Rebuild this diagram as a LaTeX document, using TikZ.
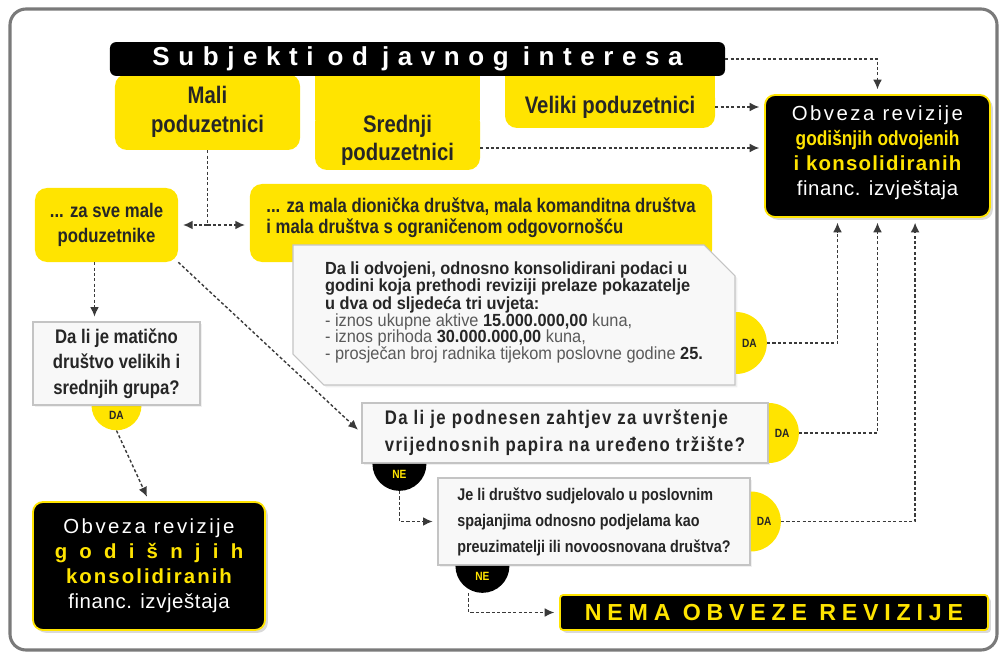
\documentclass[tikz,border=0pt]{standalone}
\usepackage{fontspec}
\setmainfont{Liberation Sans}
\newfontfamily\condfont[FakeStretch=0.85]{Liberation Sans}
\newfontfamily\listfont[FakeStretch=0.93]{Liberation Sans}
\usetikzlibrary{arrows.meta,positioning,calc,shapes.geometric,shapes.misc,shadows}
\definecolor{revYellow}{HTML}{FFE400}
\definecolor{revFrame}{HTML}{7A7A7A}
\definecolor{revText}{HTML}{262626}
\definecolor{revGrey}{HTML}{5A5A5A}
\definecolor{revLine}{HTML}{3A3A3A}
\definecolor{revPaper}{HTML}{F8F8F8}
\definecolor{revBorder}{HTML}{C4C4C4}

\begin{document}
\begin{tikzpicture}[x=0.25mm, y=-0.25mm,
  ybox/.style={fill=revYellow, rounded corners=3mm, inner sep=0pt, align=center, text=revText},
  bbox/.style={fill=black, draw=revYellow, line width=1.3pt, rounded corners=2.5mm, inner sep=0pt,
    align=center, text=white, drop shadow={opacity=0.3,shadow xshift=0.7mm,shadow yshift=-0.7mm}},
  qbox/.style={fill=revPaper, draw=revBorder, line width=0.8pt, inner sep=0pt, text=revText,
    drop shadow={opacity=0.12,shadow xshift=0.6mm,shadow yshift=-0.6mm}},
  dahalf/.style={semicircle, fill=revYellow, inner sep=0pt, text=revText, anchor=chord center,
    font=\condfont\bfseries\fontsize{8.5}{9}\selectfont},
  nehalf/.style={semicircle, fill=black, inner sep=0pt, text=revYellow, anchor=chord center,
    font=\condfont\bfseries\fontsize{8.5}{9}\selectfont},
  conn/.style={draw=revLine, line width=1pt, dash pattern=on 2.2pt off 1.6pt},
  toarr/.style={-{Latex[length=2.4mm,width=2.2mm]}, shorten >=1.2mm}]
\useasboundingbox (0,0) rectangle (1006,656);
\draw[revFrame, line width=2.2pt, rounded corners=4mm] (10,9) rectangle (997,650);

% top row: size classes under the title bar
\fill[revYellow] (315,70) rectangle (480,120);
\fill[revYellow] (505,70) rectangle (715,100);
\node[ybox, minimum width=46.25mm, minimum height=19mm, font=\condfont\bfseries\fontsize{17}{21}\selectfont]
  (mali) at (207.5,112) {Mali\\poduzetnici};
\node[ybox, minimum width=41.25mm, minimum height=15mm, font=\condfont\bfseries\fontsize{17}{20}\selectfont]
  (srednji) at (397.5,140) {Srednji\\poduzetnici};
\node[ybox, minimum width=52.5mm, minimum height=10.5mm, font=\condfont\bfseries\fontsize{17}{20}\selectfont]
  (veliki) at (610,107) {Veliki poduzetnici};
\node[fill=black, rounded corners=1.5mm, minimum width=153.75mm, minimum height=8mm, text=white,
  font=\bfseries\fontsize{18.5}{20}\selectfont\addfontfeatures{LetterSpace=33}]
  (title) at (417.5,59) {Subjekti\hspace*{3.5mm}od\hspace*{3.5mm}javnog\hspace*{3.5mm}interesa};

% result box on the right
\node[bbox, minimum width=56.25mm, minimum height=30.5mm, font=\fontsize{14.5}{17.8}\selectfont]
  (rbox) at (877.5,156)
  {{\addfontfeatures{LetterSpace=12}Obveza revizije}\\
   {\color{revYellow}\condfont\bfseries godišnjih odvojenih}\\
   {\color{revYellow}\bfseries\addfontfeatures{LetterSpace=6}i konsolidiranih}\\
   {\addfontfeatures{LetterSpace=3}financ. izvještaja}\\[-3.5mm]};

% small enterprises
\node[ybox, minimum width=35.75mm, minimum height=18.5mm, font=\condfont\bfseries\fontsize{14}{18}\selectfont]
  (zasve) at (106.5,225) {... za sve male\\poduzetnike};
\node[ybox, minimum width=115.5mm, minimum height=19.5mm, align=left, font=\condfont\bfseries\fontsize{14}{14.5}\selectfont]
  (zamala) at (481,223) {... za mala dionička društva, mala komanditna društva\\i mala društva s ograničenom odgovornošću\\[-1.5mm]};
\node[qbox, chamfered rectangle, chamfered rectangle corners={north east,south west}, chamfered rectangle xsep=6.5mm,
  minimum width=110.5mm, minimum height=35mm, align=left, font=\listfont\fontsize{12.5}{11.8}\selectfont]
  (q1) at (514,315)
  {\textbf{Da li odvojeni, odnosno konsolidirani podaci u}\\
   \textbf{godini koja prethodi reviziji prelaze pokazatelje}\\
   \textbf{u dva od sljedeća tri uvjeta:}\\
   \textcolor{revGrey}{- iznos ukupne aktive} \textbf{15.000.000,00} \textcolor{revGrey}{kuna,}\\
   \textcolor{revGrey}{- iznos prihoda} \textbf{30.000.000,00} \textcolor{revGrey}{kuna,}\\
   \textcolor{revGrey}{- prosječan broj radnika tijekom poslovne godine} \textbf{25.}\\[-2mm]};
\node[dahalf, shape border rotate=270, minimum width=15.5mm] (da1) at ([yshift=-7mm]q1.east) {DA};

% parent company question
\node[dahalf, shape border rotate=180, minimum width=12.5mm] (da2) at (116.5,405) {DA};
\node[qbox, minimum width=41.75mm, minimum height=20.75mm, align=center, font=\condfont\bfseries\fontsize{14}{18}\selectfont]
  (q2) at (116.5,363.5) {Da li je matično\\društvo velikih i\\srednjih grupa?};
\node[bbox, minimum width=58mm, minimum height=32mm, font=\fontsize{14.5}{17.8}\selectfont]
  (lbox) at (149,566)
  {{\addfontfeatures{LetterSpace=12}Obveza revizije}\\
   {\color{revYellow}\bfseries\addfontfeatures{LetterSpace=60}godišnjih}\\
   {\color{revYellow}\bfseries\addfontfeatures{LetterSpace=10}konsolidiranih}\\
   {\addfontfeatures{LetterSpace=3}financ. izvještaja}};

% securities and merger questions
\node[qbox, minimum width=101.5mm, minimum height=15mm, align=left,
  font=\condfont\bfseries\fontsize{14}{19}\selectfont\addfontfeatures{LetterSpace=7}]
  (q3) at (565,433) {Da li je podnesen zahtjev za uvrštenje\\vrijednosnih papira na uređeno tržište?};
\node[dahalf, shape border rotate=270, minimum width=15mm] (da3) at (q3.east) {DA};
\node[nehalf, shape border rotate=180, minimum width=13.5mm] (ne1) at ([xshift=9.5mm]q3.south west) {NE};
\node[qbox, minimum width=78mm, minimum height=21.75mm, align=left, font=\condfont\bfseries\fontsize{12}{18.5}\selectfont]
  (q4) at (594,521.5) {Je li društvo sudjelovalo u poslovnim\\spajanjima odnosno podjelama kao\\preuzimatelji ili novoosnovana društva?};
\node[dahalf, shape border rotate=270, minimum width=15mm] (da4) at (q4.east) {DA};
\node[nehalf, shape border rotate=180, minimum width=13.5mm] (ne2) at ([xshift=11.25mm]q4.south west) {NE};
\node[bbox, rounded corners=0.8mm, minimum width=107mm, minimum height=8.75mm, text=revYellow,
  font=\bfseries\fontsize{16.5}{18}\selectfont\addfontfeatures{LetterSpace=25}]
  (nema) at (774,612.5) {NEMA OBVEZE REVIZIJE};

% connectors
\draw[conn,toarr] (title.east) -| (rbox.north);
\draw[conn,toarr] (veliki.east) -- (veliki.east -| rbox.west);
\draw[conn,toarr] ([yshift=-2mm]srednji.east) coordinate (s1) -- (s1 -| rbox.west);
\draw[conn] (mali.south) -- (mali.south |- zasve.east) coordinate (jm);
\draw[conn,toarr] (jm) -- (zasve.east);
\draw[conn,toarr] (jm) -- (jm -| zamala.west);
\draw[conn,toarr] ([xshift=-3mm]zasve.south) coordinate (z1) -- (z1 |- q2.north);
\draw[conn,toarr] (zasve.south east) -- (q3.west);
\draw[conn,toarr] (da2.apex) -- (lbox.north);
\draw[conn,toarr] (da1.apex) -| ([xshift=-10mm]rbox.south);
\draw[conn,toarr] (da3.apex) -| (rbox.south);
\draw[conn,toarr] (da4.apex) -| ([xshift=9.4mm]rbox.south);
\draw[conn,toarr] (ne1.apex) |- (q4.west);
\draw[conn,toarr] ([xshift=-3.5mm]ne2.apex) |- (nema.west);
\end{tikzpicture}
\end{document}
